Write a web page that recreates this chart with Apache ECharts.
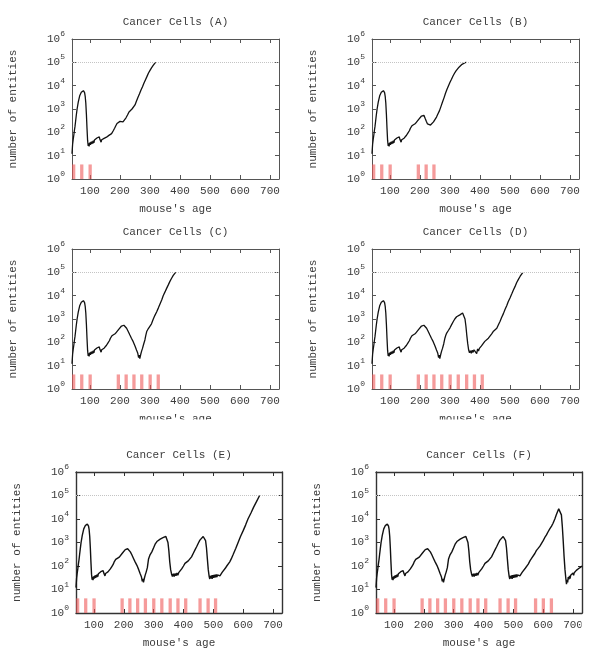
<!DOCTYPE html>
<html><head><meta charset="utf-8">
<script src="https://cdn.jsdelivr.net/npm/echarts@6/dist/echarts.min.js"></script>
<style>html,body{margin:0;padding:0;background:#fff}#c{width:600px;height:654px}</style>
</head><body><div id="c"></div>
<script>
// ---------- data ----------
const panelTitles = ['Cancer Cells (A)','Cancer Cells (B)','Cancer Cells (C)','Cancer Cells (D)','Cancer Cells (E)','Cancer Cells (F)'];
const xTicks = [100,200,300,400,500,600,700];
const xRange = [40,730];
const yRange = [1,1000000];
const threshold = 100000;

// treatment windows (mouse's age at start), each lasting treatmentLength days
const treatmentStarts = [40,67,95,189,215,241,267,295,322,350,376,402,450,477,502,569,595,622];
const treatmentLength = 11;
const treatmentMarkTop = 4.2;
const treatmentCounts = [3,6,9,12,15,18];

// [mouse's age, number of cancer cells]
const earlyCells = [[40,12],[42,30],[44,50],[46,75],[48,120],[50,180],[52,300],[54,500],[57,1000],[61,2000],[66,3800],[71,5200],[75,5900],[78,6100],[80,5900],[82,5000],[84,3500],[86,1800],[88,600],[90,150],[92,45],[94,26],[95,34],[97,25],[99,36],[101,29],[103,39],[105,31],[107,41],[109,33],[111,44],[113,35],[115,47],[117,39],[119,52],[121,43],[123,57],[125,47],[127,62],[129,52],[131,64],[133,50],[135,44],[137,38],[139,48],[141,40],[143,49]];
const tailA = [[145,46],[147,55],[149,47],[151,60],[153,52],[155,62],[157,55],[159,70],[161,62],[163,74],[165,62],[167,72],[169,80],[172,88],[174,95],[178,120],[182,150],[186,190],[190,240],[195,280],[200,295],[205,285],[210,280],[215,300],[220,420],[225,550],[230,750],[235,900],[240,1000],[245,1100],[250,1500],[255,2200],[260,3200],[265,4500],[270,6500],[275,9000],[280,13000],[285,18000],[290,25000],[295,35000],[300,45000],[305,58000],[310,72000],[315,88000],[319,100000]];
const secondWave = [[145,46],[147,56],[149,52],[151,64],[153,60],[155,75],[158,85],[160,95],[163,110],[165,120],[168,150],[170,170],[173,190],[175,200],[178,205],[180,210],[185,240],[190,290],[195,350],[200,420],[205,500],[209,560],[213,540]];
const tailB = [[217,400],[221,300],[225,230],[230,200],[235,205],[240,230],[245,280],[250,340],[255,450],[260,620],[265,850],[270,1300],[275,2000],[280,3000],[285,4700],[290,7000],[295,10000],[300,14000],[305,19000],[310,26000],[315,34000],[320,43000],[325,52000],[330,62000],[335,72000],[340,82000],[345,90000],[350,96000],[355,100000]];
const thirdDip = [[217,460],[222,400],[227,300],[233,205],[238,150],[244,107],[250,70],[255,47],[259,35],[262,22],[264,28],[266,20],[269,30],[272,42],[275,55],[279,85]];
const tailC = [[283,126],[286,200],[289,290],[294,380],[300,450],[305,620],[311,1000],[316,1400],[322,2000],[328,3000],[333,4300],[339,6500],[344,10000],[350,14500],[355,20000],[361,29000],[366,40000],[372,56000],[377,72000],[382,88000],[386,100000]];
const tailD = [[283,150],[286,200],[289,250],[295,330],[300,420],[305,560],[311,780],[316,1000],[322,1250],[328,1400],[333,1500],[338,1700],[342,1800],[346,1500],[350,1000],[353,500],[356,200],[359,90],[362,48],[365,36],[368,44],[371,34],[374,46],[377,37],[380,48],[383,40],[386,50],[389,33],[392,52],[395,42],[398,55],[402,62],[405,70],[411,90],[416,110],[422,125],[428,150],[433,175],[439,230],[445,300],[450,350],[456,400],[461,550],[467,800],[472,1150],[478,1700],[483,2500],[489,3700],[494,5500],[500,8000],[506,12000],[511,17000],[517,25000],[522,36000],[528,50000],[534,68000],[540,88000],[543,100000]];
const lateWaves = [[283,200],[288,300],[294,400],[300,600],[305,850],[311,1100],[316,1260],[322,1400],[327,1500],[333,1650],[338,1780],[341,1800],[345,1500],[348,1000],[351,450],[354,150],[357,70],[360,46],[363,36],[366,47],[369,36],[372,48],[375,38],[378,50],[381,40],[384,52],[387,44],[390,56],[394,75],[400,100],[405,130],[410,150],[416,165],[422,190],[427,245],[433,350],[439,500],[444,660],[450,950],[455,1260],[460,1500],[466,1800],[470,1750],[474,1200],[477,600],[480,200],[483,70],[486,36],[488,28],[490,38],[492,30],[494,40],[496,28],[498,41],[500,31],[502,42],[504,32],[506,43],[508,33],[510,44],[512,34],[514,42],[516,35],[519,45],[522,38],[526,46],[530,55]];
const tailE = [[535,62],[540,80],[545,100],[550,110],[555,150],[560,200],[566,300],[575,560],[583,1000],[591,1800],[600,3200],[608,5500],[616,10000],[626,18000],[635,32000],[645,56000],[655,100000]];
const tailF = [[535,65],[540,80],[544,93],[550,120],[556,170],[561,210],[566,245],[572,340],[577,450],[583,560],[589,700],[594,900],[600,1200],[605,1600],[611,2100],[616,2800],[622,3800],[628,5000],[633,6600],[639,10000],[644,15000],[649,22000],[652,27000],[655,28000],[658,24000],[661,15000],[664,5000],[667,1200],[670,250],[673,70],[676,28],[678,17],[680,26],[682,20],[684,34],[686,27],[688,38],[690,29],[692,40],[694,33],[696,48],[698,38],[700,50],[702,40],[704,52],[707,55],[709,48],[711,65],[713,55],[715,70],[717,60],[719,78],[721,68],[723,85],[725,75],[727,92],[730,100]];

const cellsA = earlyCells.concat(tailA);
const cellsB = earlyCells.concat(secondWave, tailB);
const cellsC = earlyCells.concat(secondWave, thirdDip, tailC);
const cellsD = earlyCells.concat(secondWave, thirdDip, tailD);
const cellsE = earlyCells.concat(secondWave, thirdDip, lateWaves, tailE);
const cellsF = earlyCells.concat(secondWave, thirdDip, lateWaves, tailF);
const panelCells = [cellsA, cellsB, cellsC, cellsD, cellsE, cellsF];

// ---------- layout / style ----------
const FONT = '"Liberation Mono", "Courier New", monospace';
const TXT = '#3c3c3c';
const grids = [
  {left:72, top:39, width:207, height:140},
  {left:372, top:39, width:207, height:140},
  {left:72, top:249, width:207, height:140},
  {left:372, top:249, width:207, height:140},
  {left:76, top:472, width:206, height:141},
  {left:376, top:472, width:206, height:141}
];
const frame = i => i < 4 ? {color:'#555', width:1} : {color:'#333', width:1.4};

const xAxes = [], yAxes = [], series = [], graphics = [];
grids.forEach((g, i) => {
  const fl = frame(i);
  const tick = {show:true, inside:true, length:4, lineStyle:{color:fl.color, width:1}};
  xAxes.push({gridIndex:i, type:'value', min:xRange[0], max:xRange[1], position:'bottom',
    axisLine:{show:true, onZero:false, lineStyle:fl},
    axisTick:Object.assign({customValues:xTicks}, tick),
    axisLabel:{customValues:xTicks, margin:7, fontFamily:FONT, fontSize:11, color:TXT},
    splitLine:{show:false},
    name:"mouse's age", nameLocation:'middle', nameGap:25,
    nameTextStyle:{fontFamily:FONT, fontSize:11, color:TXT}});
  xAxes.push({gridIndex:i, type:'value', min:xRange[0], max:xRange[1], position:'top',
    axisLine:{show:true, onZero:false, lineStyle:fl},
    axisTick:Object.assign({customValues:xTicks}, tick),
    axisLabel:{show:false}, splitLine:{show:false}});
  yAxes.push({gridIndex:i, type:'log', logBase:10, min:yRange[0], max:yRange[1], position:'left',
    axisLine:{show:true, onZero:false, lineStyle:fl},
    axisTick:tick, splitLine:{show:false}, minorTick:{show:false},
    axisLabel:{margin:7, formatter: v => '{b|10}{s|' + Math.round(Math.log10(v)) + '}',
      rich:{b:{fontFamily:FONT, fontSize:11, color:TXT, lineHeight:18},
            s:{fontFamily:FONT, fontSize:8, color:TXT, lineHeight:10, verticalAlign:'top'}}},
    name:'number of entities', nameLocation:'middle', nameRotate:90, nameGap:53,
    nameTextStyle:{fontFamily:FONT, fontSize:11, color:TXT}});
  yAxes.push({gridIndex:i, type:'log', logBase:10, min:yRange[0], max:yRange[1], position:'right',
    axisLine:{show:true, onZero:false, lineStyle:fl},
    axisTick:tick, splitLine:{show:false}, axisLabel:{show:false}});

  const bars = treatmentStarts.slice(0, treatmentCounts[i]).map(s => [s, s + treatmentLength, treatmentMarkTop]);
  series.push({type:'custom', xAxisIndex:2*i, yAxisIndex:2*i, silent:true, z:1,
    encode:{x:[0,1], y:2}, data:bars,
    renderItem:(params, api) => {
      const p0 = api.coord([api.value(0), api.value(2)]);
      const p1 = api.coord([api.value(1), yRange[0]]);
      return {type:'rect', shape:{x:p0[0], y:p0[1], width:p1[0]-p0[0], height:p1[1]-p0[1]},
        style:{fill:'rgba(238,88,88,0.6)'}};
    }});
  series.push({type:'line', xAxisIndex:2*i, yAxisIndex:2*i, data:panelCells[i], z:3,
    showSymbol:false, symbol:'none', silent:true, clip:true,
    lineStyle:{color:'#111', width:i < 4 ? 1.3 : 1.4},
    markLine:{silent:true, symbol:'none', label:{show:false},
      lineStyle:{color:'#c4c4c4', type:'dotted', width:1},
      data:[{yAxis:threshold}]}});
  graphics.push({type:'text', x:g.left + g.width/2, y:g.top - 17, z:50,
    style:{text:panelTitles[i], font:'11px ' + FONT, fill:TXT, align:'center', verticalAlign:'middle'}});
});
// the reference image is cut just under the second row's x-axis names and at the far right
graphics.push({type:'rect', shape:{x:0, y:419.5, width:600, height:22}, style:{fill:'#fff'}, z:100});
graphics.push({type:'rect', shape:{x:581.5, y:615, width:19, height:22}, style:{fill:'#fff'}, z:100});

const chart = echarts.init(document.getElementById('c'), null, {renderer:'canvas'});
chart.setOption({
  animation:false,
  backgroundColor:'#fff',
  grid:grids.map(g => Object.assign({outerBoundsMode:'none', containLabel:false}, g)),
  xAxis:xAxes, yAxis:yAxes, series:series, graphic:graphics
});
</script></body></html>
